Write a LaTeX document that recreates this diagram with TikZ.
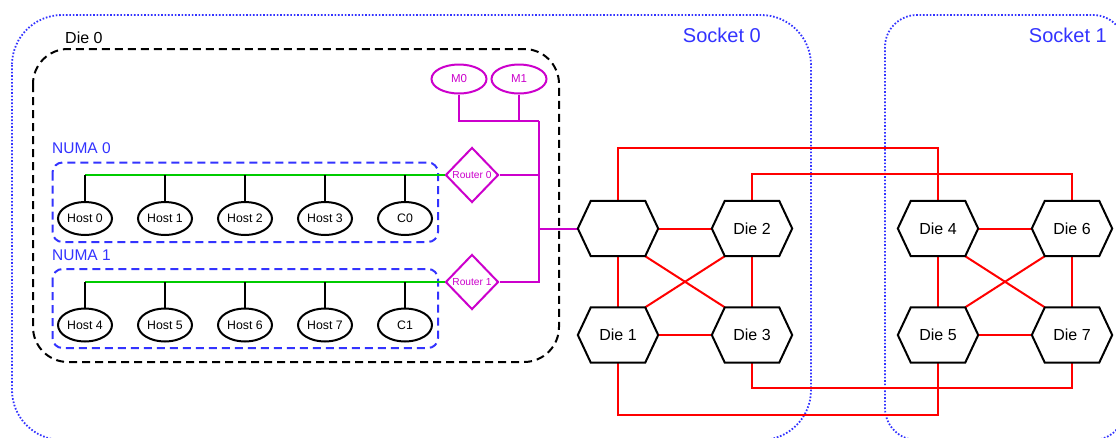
\documentclass[tikz,border=0pt]{standalone}
\usepackage{fontspec}
\setmainfont{Liberation Sans}
\usetikzlibrary{shapes.geometric}
\definecolor{grpblue}{RGB}{51,51,255}
\definecolor{linkred}{RGB}{255,0,0}
\definecolor{busgreen}{RGB}{0,204,0}
\definecolor{memmag}{RGB}{204,0,204}

\begin{document}
\begin{tikzpicture}[x=1pt,y=-1pt,
  host/.style={ellipse, draw=black, line width=2pt, minimum width=54pt,
    minimum height=33pt, inner sep=0pt, font=\fontsize{12.3}{14}\selectfont},
  mem/.style={ellipse, draw=memmag, line width=2pt, minimum width=55pt,
    minimum height=29pt, inner sep=0pt, text=memmag,
    font=\fontsize{11.5}{13}\selectfont},
  router/.style={diamond, draw=memmag, line width=2pt, minimum width=53pt,
    minimum height=55pt, inner sep=0pt},
  rlabel/.style={text=memmag, font=\fontsize{10.2}{12}\selectfont, inner sep=0pt},
  diebox/.style={rectangle, minimum width=80pt, minimum height=55pt,
    inner sep=0pt, font=\fontsize{16}{18}\selectfont},
  hexline/.style={draw=black, line width=2pt, line join=miter},
  link/.style={draw=linkred, line width=2pt},
  membus/.style={draw=memmag, line width=2pt},
  hostbus/.style={draw=busgreen, line width=2pt},
  drop/.style={draw=black, line width=2pt},
  socketbox/.style={draw=grpblue, line width=1.8pt, dash pattern=on 1.6pt off 1.8pt},
  diegroup/.style={draw=black, line width=2pt, dash pattern=on 8pt off 5pt},
  numagroup/.style={draw=grpblue, line width=2pt, dash pattern=on 8pt off 5pt},
  bluetitle/.style={text=grpblue, inner sep=0pt},
]
\clip (0,0) rectangle (1116,437);
\fill[white] (0,0) rectangle (1116,437);

% sockets
\draw[socketbox, rounded corners=50pt] (12,15) rectangle (811,440);
\draw[socketbox, rounded corners=32pt] (885,15) rectangle (1125,440);
\node[bluetitle, anchor=east, font=\fontsize{20}{22}\selectfont] (s0lbl) at (761,35) {Socket 0};
\node[bluetitle, anchor=east, font=\fontsize{20}{22}\selectfont] (s1lbl) at (1107,35) {Socket 1};

% die 0 contents
\draw[diegroup, rounded corners=35pt] (33,49) rectangle (559,362);
\node[anchor=west, inner sep=0pt, font=\fontsize{16}{18}\selectfont] (die0lbl) at (65,38) {Die 0};

\draw[numagroup, rounded corners=10pt] (52.5,162.5) rectangle (438,242);
\draw[numagroup, rounded corners=10pt] (52.5,269) rectangle (438,348);
\node[bluetitle, anchor=west, font=\fontsize{15.5}{18}\selectfont] (n0lbl) at (52,148) {NUMA 0};
\node[bluetitle, anchor=west, font=\fontsize{15.5}{18}\selectfont] (n1lbl) at (52,255) {NUMA 1};

% hosts
\node[host] (h0) at (85,218.5) {Host 0};
\node[host] (h1) at (165,218.5) {Host 1};
\node[host] (h2) at (245,218.5) {Host 2};
\node[host] (h3) at (325,218.5) {Host 3};
\node[host] (c0) at (405,218.5) {C0};
\node[host] (h4) at (85,325) {Host 4};
\node[host] (h5) at (165,325) {Host 5};
\node[host] (h6) at (245,325) {Host 6};
\node[host] (h7) at (325,325) {Host 7};
\node[host] (c1) at (405,325) {C1};

% routers and memory
\node[router, label={[rlabel]center:Router 0}] (r0) at (472,175) {};
\node[router, label={[rlabel]center:Router 1}] (r1) at (472,282) {};
\node[mem] (m0) at (459,79) {M0};
\node[mem] (m1) at (519,79) {M1};

% host buses
\draw[hostbus] (h0.north |- r0.west) -- (r0.west);
\draw[hostbus] (h4.north |- r1.west) -- (r1.west);
\foreach \h in {h0,h1,h2,h3,c0} \draw[drop] (\h.north) -- (\h.north |- r0.west);
\foreach \h in {h4,h5,h6,h7,c1} \draw[drop] (\h.north) -- (\h.north |- r1.west);

% dies
\node[diebox] (d0) at (618,228.5) {};
\node[diebox] (d2) at (752,228.5) {Die 2};
\node[diebox] (d1) at (618,335) {Die 1};
\node[diebox] (d3) at (752,335) {Die 3};
\node[diebox] (d4) at (938,228.5) {Die 4};
\node[diebox] (d6) at (1072,228.5) {Die 6};
\node[diebox] (d5) at (938,335) {Die 5};
\node[diebox] (d7) at (1072,335) {Die 7};

% memory / router bus
\coordinate (bt) at (539,121);
\coordinate (bj) at (539,228.5);
\draw[membus] (m0.south) |- (bt);
\draw[membus] (m1.south) -- (m1.south |- bt);
\draw[membus] (bt) |- (r1.east);
\draw[membus] (r0.east) -- (r0.east -| bt);
\draw[membus] (bj) -- (d0.west);

% die links inside each socket
\foreach \a/\b/\c/\d in {d0/d2/d1/d3, d4/d6/d5/d7}{
  \draw[link] (\a.east) -- (\b.west);
  \draw[link] (\c.east) -- (\d.west);
  \draw[link] (\a.south) -- (\c.north);
  \draw[link] (\b.south) -- (\d.north);
  \draw[link] ([xshift=-13pt]\a.south east) -- ([xshift=13pt]\d.north west);
  \draw[link] ([xshift=13pt]\b.south west) -- ([xshift=-13pt]\c.north east);
}

% links between sockets
\draw[link] (d0.north) -- ++(0,-53) -| (d4.north);
\draw[link] (d2.north) -- ++(0,-26.5) -| (d6.north);
\draw[link] (d3.south) -- ++(0,25.5) -| (d7.south);
\draw[link] (d1.south) -- ++(0,52.5) -| (d5.south);

% hexagon outlines
\foreach \n in {d0,d1,d2,d3,d4,d5,d6,d7}
  \draw[hexline] (\n.west) -- ([xshift=13pt]\n.north west) -- ([xshift=-13pt]\n.north east)
    -- (\n.east) -- ([xshift=-13pt]\n.south east) -- ([xshift=13pt]\n.south west) -- cycle;
\end{tikzpicture}
\end{document}
